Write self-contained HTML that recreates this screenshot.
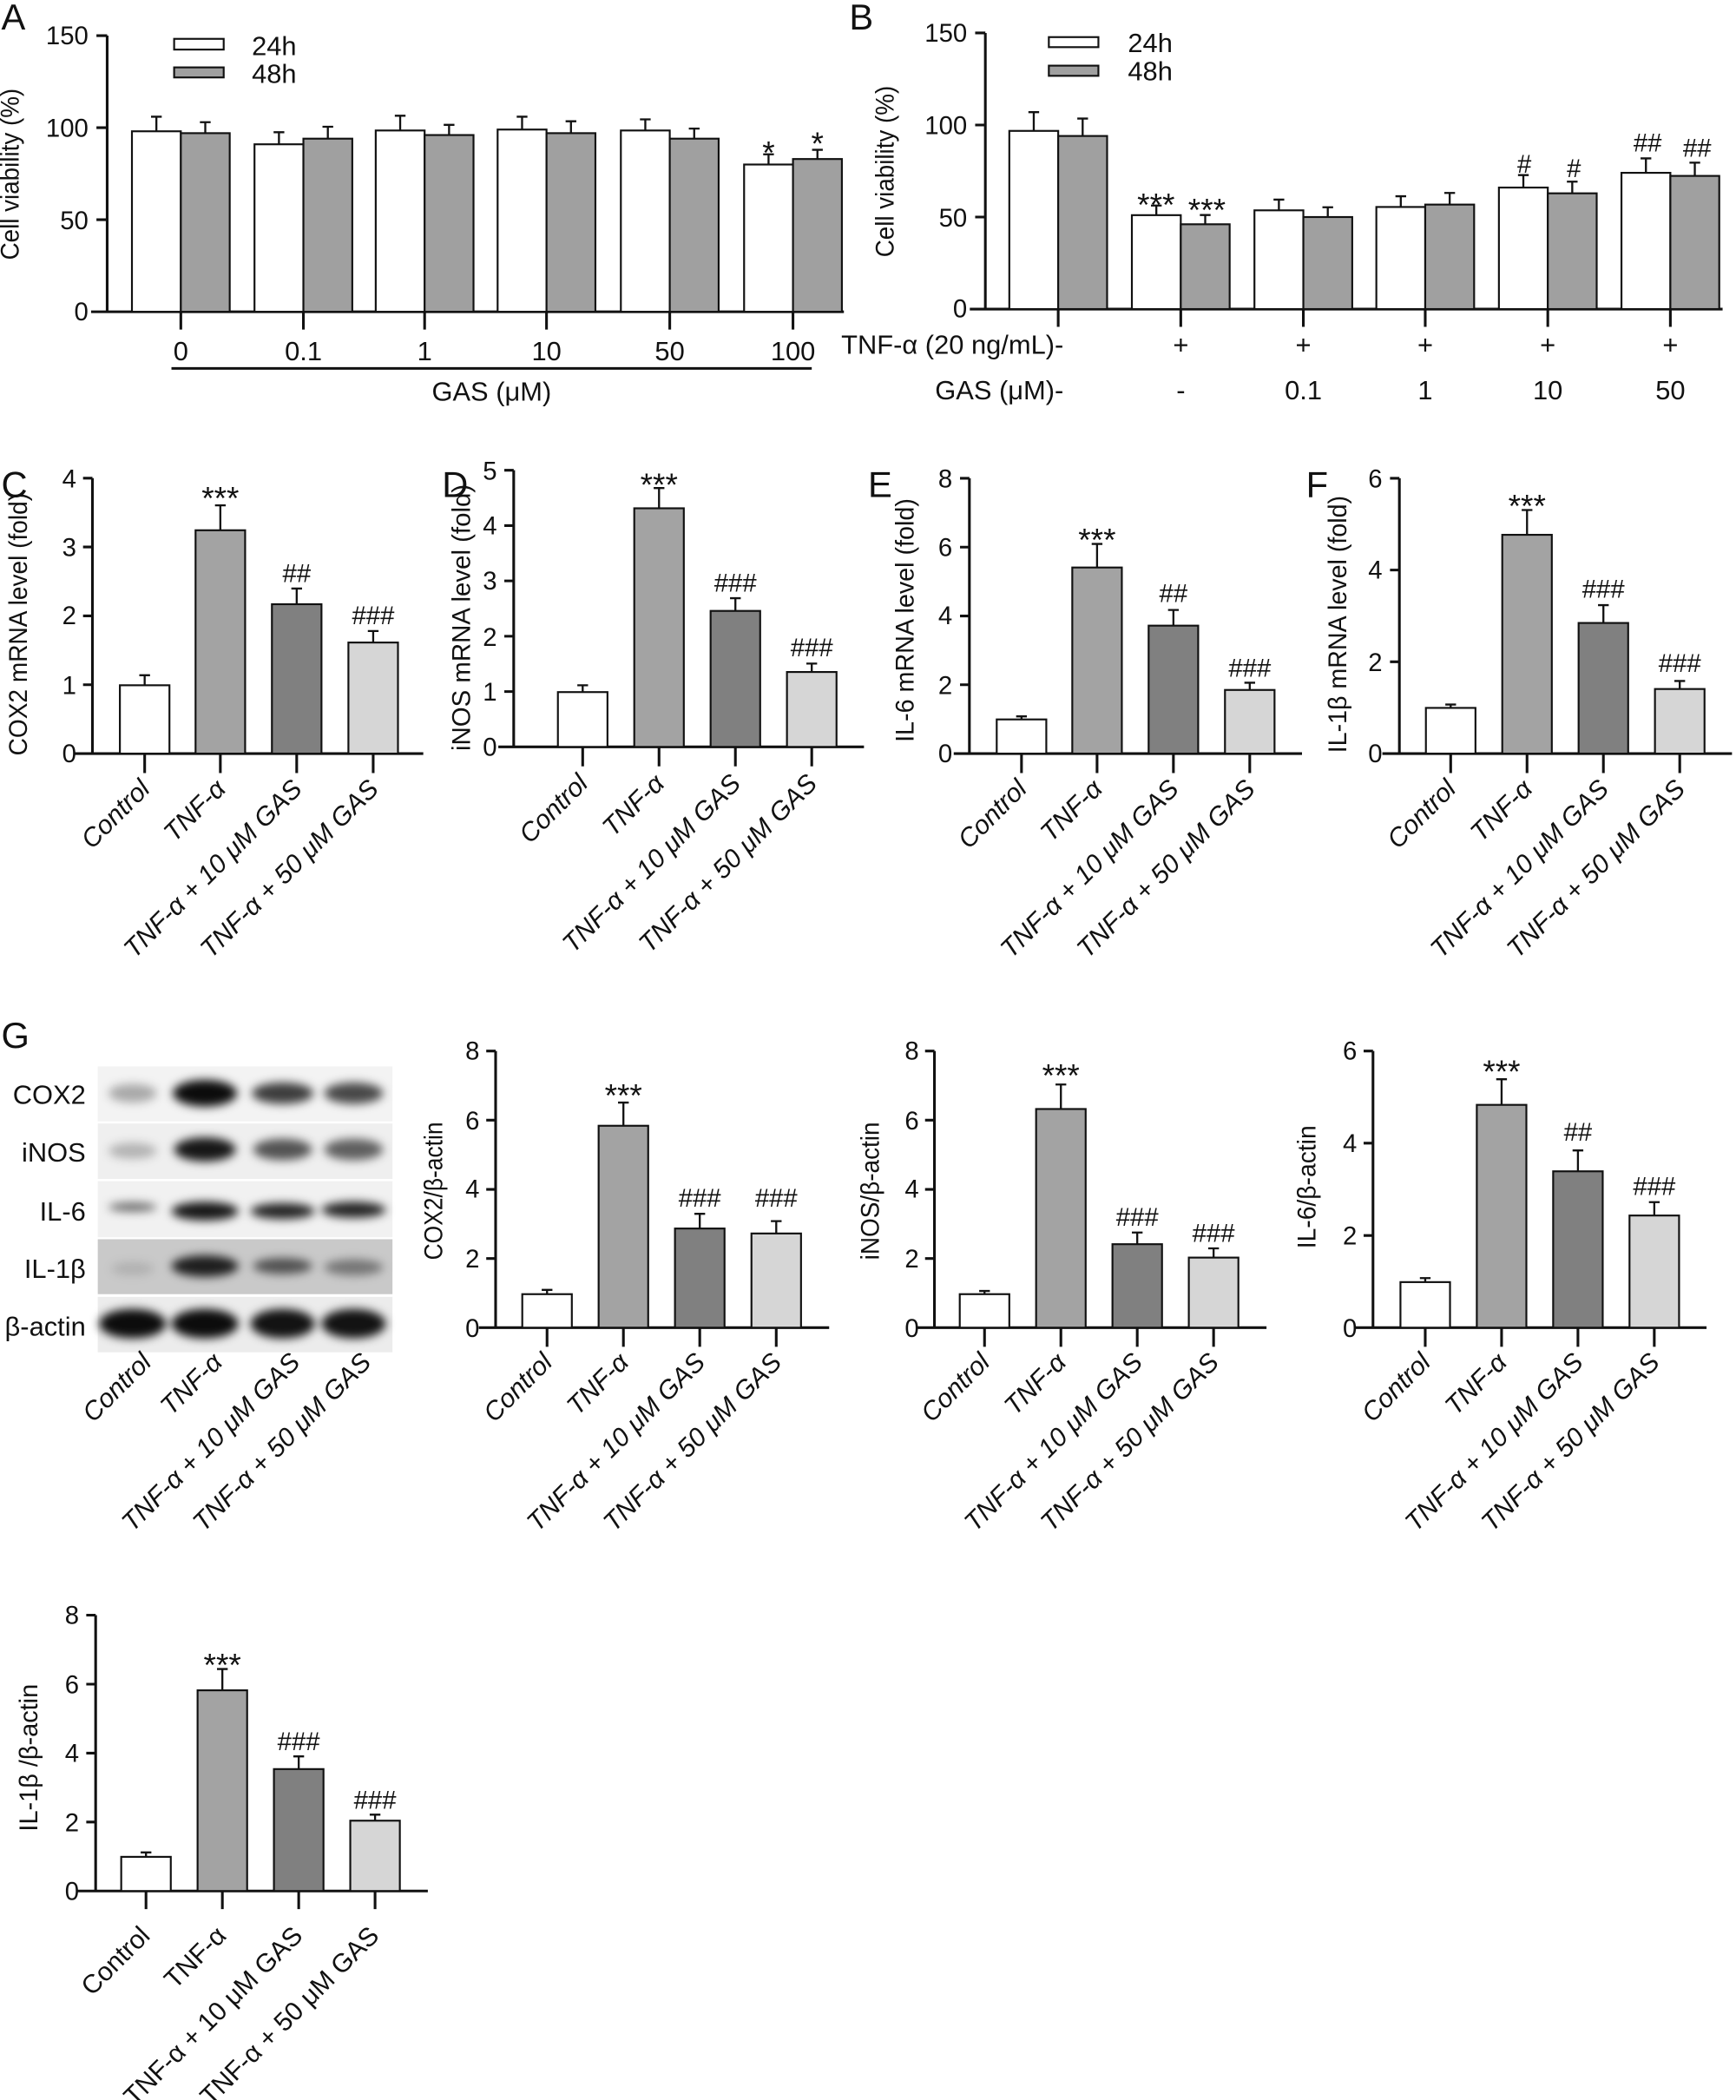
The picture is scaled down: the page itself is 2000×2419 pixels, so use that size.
<!DOCTYPE html>
<html><head><meta charset="utf-8"><style>
html,body{margin:0;padding:0;background:#fff;}
svg{display:block;}
text{font-family:"Liberation Sans",Arial,sans-serif;fill:#111;}
.nw{font-family:"Liberation Sans Narrow","Liberation Sans",Arial,sans-serif;}
.n{font-size:19px;text-anchor:end;font-family:"Liberation Sans Narrow","Liberation Sans",Arial,sans-serif;}
.t{font-size:19px;text-anchor:middle;}
.s{font-size:24px;text-anchor:middle;}
.h{font-size:19px;text-anchor:middle;}
.L{font-size:27px;}
.xl{font-size:19.5px;font-style:italic;text-anchor:end;}
.xu{font-size:19.5px;text-anchor:end;}
.ax{stroke:#111;stroke-width:2;fill:none;}
.b{stroke:#111;stroke-width:1.4;}
.e{stroke:#111;stroke-width:1.5;fill:none;}
</style></head><body>
<svg width="2000" height="2419" viewBox="0 0 1296 1567.5" preserveAspectRatio="none" xmlns="http://www.w3.org/2000/svg">
<defs><filter id="bl" x="-50%" y="-100%" width="200%" height="300%"><feGaussianBlur stdDeviation="3.5"/></filter></defs>
<rect width="1296" height="1567.5" fill="#fff"/>

<!-- Panel A -->
<text class="L" x="1" y="22">A</text>
<g class="ax"><path d="M80 26.6V232.7M72 26.6H80M72 95.3H80M72 164H80M72 232.7H80M68 232.7H630"/>
<path d="M135 232.7V246M226.5 232.7V246M317 232.7V246M408 232.7V246M500 232.7V246M592 232.7V246M128 275H606"/></g>
<text class="n" x="66" y="33">150</text><text class="n" x="66" y="102">100</text><text class="n" x="66" y="171">50</text><text class="n" x="66" y="239">0</text>
<text class="t" transform="translate(14,130) rotate(-90)" textLength="128" lengthAdjust="spacingAndGlyphs">Cell viability (%)</text>
<rect class="b" x="130" y="29" width="37" height="8" fill="#fff"/><rect class="b" x="130" y="50.3" width="37" height="7.5" fill="#a0a0a0"/>
<text class="nw" x="188" y="41" style="font-size:20px">24h</text><text class="nw" x="188" y="62" style="font-size:20px">48h</text>
<g class="b">
<rect x="98.5" y="98" width="36.5" height="134.7" fill="#fff"/><rect x="135" y="99.4" width="36.5" height="133.3" fill="#a0a0a0"/>
<rect x="190" y="107.7" width="36.5" height="125" fill="#fff"/><rect x="226.5" y="103.5" width="36.5" height="129.2" fill="#a0a0a0"/>
<rect x="280.5" y="97.4" width="36.5" height="135.3" fill="#fff"/><rect x="317" y="100.8" width="36.5" height="131.9" fill="#a0a0a0"/>
<rect x="371.5" y="96.7" width="36.5" height="136" fill="#fff"/><rect x="408" y="99.4" width="36.5" height="133.3" fill="#a0a0a0"/>
<rect x="463.5" y="97.4" width="36.5" height="135.3" fill="#fff"/><rect x="500" y="103.5" width="36.5" height="129.2" fill="#a0a0a0"/>
<rect x="555.5" y="122.8" width="36.5" height="109.9" fill="#fff"/><rect x="592" y="118.7" width="36.5" height="114" fill="#a0a0a0"/>
</g>
<path class="e" d="M116.75 98V87.1M112.75 87.1H120.75M153.25 99.4V91.2M149.25 91.2H157.25M208.25 107.7V98.7M204.25 98.7H212.25M244.75 103.5V94.6M240.75 94.6H248.75M298.75 97.4V86.4M294.75 86.4H302.75M335.25 100.8V93.2M331.25 93.2H339.25M389.75 96.7V87.1M385.75 87.1H393.75M426.25 99.4V90.5M422.25 90.5H430.25M481.75 97.4V89.1M477.75 89.1H485.75M518.25 103.5V96M514.25 96H522.25M573.75 122.8V115.2M569.75 115.2H577.75M610.25 118.7V111.8M606.25 111.8H614.25"/>
<text class="s" x="573.75" y="122">*</text><text class="s" x="610.25" y="115.5">*</text>
<g class="nw" style="font-size:20px;text-anchor:middle"><text x="135" y="269">0</text><text x="226.5" y="269">0.1</text><text x="317" y="269">1</text><text x="408" y="269">10</text><text x="500" y="269">50</text><text x="592" y="269">100</text>
<text x="367" y="299">GAS (μM)</text></g>

<!-- Panel B -->
<text class="L" x="634" y="22">B</text>
<g class="ax"><path d="M735.6 24.6V230.7M728 24.6H735.6M728 93.3H735.6M728 162H735.6M728 230.7H735.6M724 230.7H1286"/>
<path d="M790 230.7V244M881.5 230.7V244M973 230.7V244M1064 230.7V244M1155.5 230.7V244M1247 230.7V244"/></g>
<text class="n" x="722" y="31">150</text><text class="n" x="722" y="100">100</text><text class="n" x="722" y="169">50</text><text class="n" x="722" y="237">0</text>
<text class="t" transform="translate(667,128) rotate(-90)" textLength="128" lengthAdjust="spacingAndGlyphs">Cell viability (%)</text>
<rect class="b" x="783" y="27.7" width="37" height="7.5" fill="#fff"/><rect class="b" x="783" y="49" width="37" height="7.6" fill="#a0a0a0"/>
<text class="nw" x="842" y="39" style="font-size:20px">24h</text><text class="nw" x="842" y="60" style="font-size:20px">48h</text>
<g class="b">
<rect x="753.5" y="97.7" width="36.5" height="133" fill="#fff"/><rect x="790" y="101.5" width="36.5" height="129.2" fill="#a0a0a0"/>
<rect x="845" y="160.6" width="36.5" height="70.1" fill="#fff"/><rect x="881.5" y="167.4" width="36.5" height="63.3" fill="#a0a0a0"/>
<rect x="936.5" y="157" width="36.5" height="73.7" fill="#fff"/><rect x="973" y="162" width="36.5" height="68.7" fill="#a0a0a0"/>
<rect x="1027.5" y="154.5" width="36.5" height="76.2" fill="#fff"/><rect x="1064" y="152.7" width="36.5" height="78" fill="#a0a0a0"/>
<rect x="1119" y="140" width="36.5" height="90.7" fill="#fff"/><rect x="1155.5" y="144.3" width="36.5" height="86.4" fill="#a0a0a0"/>
<rect x="1210.5" y="129" width="36.5" height="101.7" fill="#fff"/><rect x="1247" y="131.3" width="36.5" height="99.4" fill="#a0a0a0"/>
</g>
<path class="e" d="M771.75 97.7V83.7M767.75 83.7H775.75M808.25 101.5V88.5M804.25 88.5H812.25M863.25 160.6V153.4M859.25 153.4H867.25M899.75 167.4V160.5M895.75 160.5H903.75M954.75 157V149M950.75 149H958.75M991.25 162V154.7M987.25 154.7H995.25M1045.75 154.5V146.5M1041.75 146.5H1049.75M1082.25 152.7V144M1078.25 144H1086.25M1137.25 140V130.7M1133.25 130.7H1141.25M1173.75 144.3V135.6M1169.75 135.6H1177.75M1228.75 129V118.2M1224.75 118.2H1232.75M1265.25 131.3V121.4M1261.25 121.4H1269.25"/>
<text class="s" x="863" y="161">***</text><text class="s" x="901" y="165">***</text>
<text class="h" x="1138" y="129">#</text><text class="h" x="1175" y="132.3">#</text>
<text class="h" x="1230" y="113">##</text><text class="h" x="1267" y="117">##</text>
<text class="nw" x="794" y="264" style="font-size:20px;text-anchor:end">TNF-α (20 ng/mL)-</text>
<text class="nw" x="794" y="298" style="font-size:20px;text-anchor:end">GAS (μM)-</text>
<g class="nw" style="font-size:20px;text-anchor:middle"><text x="881.5" y="264">+</text><text x="973" y="264">+</text><text x="1064" y="264">+</text><text x="1155.5" y="264">+</text><text x="1247" y="264">+</text>
<text x="881.5" y="298">-</text><text x="973" y="298">0.1</text><text x="1064" y="298">1</text><text x="1155.5" y="298">10</text><text x="1247" y="298">50</text></g>

<!-- Panel C -->
<text class="L" x="1" y="371">C</text>
<g class="ax"><path d="M69 356.9V562.5M62 356.9H69M62 408.3H69M62 459.7H69M62 511.1H69M62 562.5H69M56 562.5H316M108 562.5V577M164.5 562.5V577M221.5 562.5V577M278.6 562.5V577"/></g>
<text class="n" x="57" y="364">4</text><text class="n" x="57" y="415">3</text><text class="n" x="57" y="466">2</text><text class="n" x="57" y="518">1</text><text class="n" x="57" y="569">0</text>
<text class="t" transform="translate(20,466) rotate(-90)" textLength="196" lengthAdjust="spacingAndGlyphs">COX2 mRNA level (fold)</text>
<g class="b"><rect x="89.5" y="511.5" width="37" height="51" fill="#fff"/><rect x="146" y="395.8" width="37" height="166.7" fill="#a3a3a3"/><rect x="203" y="451" width="37" height="111.5" fill="#808080"/><rect x="260.1" y="479.6" width="37" height="82.9" fill="#d6d6d6"/></g>
<path class="e" d="M108 511.5V504M104 504H112M164.5 395.8V377.2M160.5 377.2H168.5M221.5 451V439.3M217.5 439.3H225.5M278.6 479.6V471M274.6 471H282.6"/>
<text class="s" x="164.5" y="380">***</text><text class="h" x="221.5" y="434.5">##</text><text class="h" x="278.6" y="466">###</text>
<g class="xl"><text transform="translate(113,590) rotate(-45)">Control</text><text transform="translate(169.5,590) rotate(-45)">TNF-α</text><text transform="translate(226.5,590) rotate(-45)">TNF-α + 10 μM GAS</text><text transform="translate(283.6,590) rotate(-45)">TNF-α + 50 μM GAS</text></g>

<!-- Panel D -->
<text class="L" x="330" y="371">D</text>
<g class="ax"><path d="M383.5 351V557.5M376.5 351H383.5M376.5 392.3H383.5M376.5 433.6H383.5M376.5 474.9H383.5M376.5 516.2H383.5M376.5 557.5H383.5M372 557.5H645M435 557.5V572M492 557.5V572M549 557.5V572M606 557.5V572"/></g>
<text class="n" x="371" y="358">5</text><text class="n" x="371" y="399">4</text><text class="n" x="371" y="440">3</text><text class="n" x="371" y="482">2</text><text class="n" x="371" y="523">1</text><text class="n" x="371" y="564">0</text>
<text class="t" transform="translate(351,461) rotate(-90)" textLength="199" lengthAdjust="spacingAndGlyphs">iNOS mRNA level (fold)</text>
<g class="b"><rect x="416.5" y="516.6" width="37" height="40.9" fill="#fff"/><rect x="473.5" y="379.4" width="37" height="178.1" fill="#a3a3a3"/><rect x="530.5" y="456" width="37" height="101.5" fill="#808080"/><rect x="587.5" y="501.6" width="37" height="55.9" fill="#d6d6d6"/></g>
<path class="e" d="M435 516.6V511.5M431 511.5H439M492 379.4V364.3M488 364.3H496M549 456V446.5M545 446.5H553M606 501.6V495.3M602 495.3H610"/>
<text class="s" x="492" y="370">***</text><text class="h" x="549" y="441.5">###</text><text class="h" x="606" y="490">###</text>
<g class="xl"><text transform="translate(440,586) rotate(-45)">Control</text><text transform="translate(497,586) rotate(-45)">TNF-α</text><text transform="translate(554,586) rotate(-45)">TNF-α + 10 μM GAS</text><text transform="translate(611,586) rotate(-45)">TNF-α + 50 μM GAS</text></g>

<!-- Panel E -->
<text class="L" x="648" y="371">E</text>
<g class="ax"><path d="M723.7 357V562.5M716.7 357H723.7M716.7 408.4H723.7M716.7 459.8H723.7M716.7 511.1H723.7M716.7 562.5H723.7M712 562.5H972M762.6 562.5V577M819 562.5V577M876 562.5V577M933 562.5V577"/></g>
<text class="n" x="711" y="364">8</text><text class="n" x="711" y="415">6</text><text class="n" x="711" y="466">4</text><text class="n" x="711" y="518">2</text><text class="n" x="711" y="569">0</text>
<text class="t" transform="translate(682,463) rotate(-90)" textLength="182" lengthAdjust="spacingAndGlyphs">IL-6 mRNA level (fold)</text>
<g class="b"><rect x="744.1" y="537" width="37" height="25.5" fill="#fff"/><rect x="800.5" y="423.6" width="37" height="138.9" fill="#a3a3a3"/><rect x="857.5" y="467" width="37" height="95.5" fill="#808080"/><rect x="914.5" y="515" width="37" height="47.5" fill="#d6d6d6"/></g>
<path class="e" d="M762.6 537V534.7M758.6 534.7H766.6M819 423.6V406M815 406H823M876 467V455.3M872 455.3H880M933 515V509.6M929 509.6H937"/>
<text class="s" x="819" y="411">***</text><text class="h" x="876" y="449.5">##</text><text class="h" x="933" y="505">###</text>
<g class="xl"><text transform="translate(767.6,590) rotate(-45)">Control</text><text transform="translate(824,590) rotate(-45)">TNF-α</text><text transform="translate(881,590) rotate(-45)">TNF-α + 10 μM GAS</text><text transform="translate(938,590) rotate(-45)">TNF-α + 50 μM GAS</text></g>

<!-- Panel F -->
<text class="L" x="975" y="371">F</text>
<g class="ax"><path d="M1044.7 357V562.5M1037.7 357H1044.7M1037.7 425.5H1044.7M1037.7 494H1044.7M1037.7 562.5H1044.7M1032 562.5H1293M1083 562.5V577M1140 562.5V577M1197 562.5V577M1254 562.5V577"/></g>
<text class="n" x="1032" y="364">6</text><text class="n" x="1032" y="432">4</text><text class="n" x="1032" y="501">2</text><text class="n" x="1032" y="569">0</text>
<text class="t" transform="translate(1005,466) rotate(-90)" textLength="192" lengthAdjust="spacingAndGlyphs">IL-1β mRNA level (fold)</text>
<g class="b"><rect x="1064.5" y="528.4" width="37" height="34.1" fill="#fff"/><rect x="1121.5" y="399.2" width="37" height="163.3" fill="#a3a3a3"/><rect x="1178.5" y="465" width="37" height="97.5" fill="#808080"/><rect x="1235.5" y="514.3" width="37" height="48.2" fill="#d6d6d6"/></g>
<path class="e" d="M1083 528.4V525.9M1079 525.9H1087M1140 399.2V380.7M1136 380.7H1144M1197 465V451.7M1193 451.7H1201M1254 514.3V508.3M1250 508.3H1258"/>
<text class="s" x="1140" y="386">***</text><text class="h" x="1197" y="446">###</text><text class="h" x="1254" y="501.5">###</text>
<g class="xl"><text transform="translate(1088,590) rotate(-45)">Control</text><text transform="translate(1145,590) rotate(-45)">TNF-α</text><text transform="translate(1202,590) rotate(-45)">TNF-α + 10 μM GAS</text><text transform="translate(1259,590) rotate(-45)">TNF-α + 50 μM GAS</text></g>

<!-- Panel G blot -->
<text class="L" x="1" y="782">G</text>
<rect x="73" y="796" width="220" height="41" fill="#f3f3f3"/>
<rect x="73" y="838.6" width="220" height="41.4" fill="#efefef"/>
<rect x="73" y="881.7" width="220" height="41.8" fill="#f1f1f1"/>
<rect x="73" y="925" width="220" height="41" fill="#c9c9c9"/>
<rect x="73" y="968" width="220" height="41.4" fill="#ececec"/>
<g filter="url(#bl)">
<ellipse cx="99" cy="816" rx="18" ry="7" fill="#000" opacity="0.3"/><ellipse cx="153" cy="816" rx="24" ry="10" fill="#000" opacity="0.95"/><ellipse cx="211" cy="816" rx="23" ry="8" fill="#000" opacity="0.75"/><ellipse cx="264" cy="816" rx="22" ry="8" fill="#000" opacity="0.7"/>
<ellipse cx="99" cy="859" rx="18" ry="6" fill="#000" opacity="0.25"/><ellipse cx="153" cy="858" rx="23" ry="9" fill="#000" opacity="0.9"/><ellipse cx="211" cy="858" rx="22" ry="8" fill="#000" opacity="0.65"/><ellipse cx="264" cy="858" rx="22" ry="8" fill="#000" opacity="0.6"/>
<ellipse cx="99" cy="901" rx="18" ry="3.5" fill="#000" opacity="0.55"/><ellipse cx="153" cy="904" rx="25" ry="7" fill="#000" opacity="0.9"/><ellipse cx="211" cy="904" rx="24" ry="6" fill="#000" opacity="0.85"/><ellipse cx="264" cy="903" rx="24" ry="6" fill="#000" opacity="0.85"/>
<ellipse cx="99" cy="947" rx="16" ry="5" fill="#000" opacity="0.12"/><ellipse cx="153" cy="945" rx="25" ry="8" fill="#000" opacity="0.85"/><ellipse cx="211" cy="945" rx="22" ry="6" fill="#000" opacity="0.6"/><ellipse cx="264" cy="946" rx="22" ry="6" fill="#000" opacity="0.42"/>
<ellipse cx="99" cy="988" rx="25" ry="11" fill="#000" opacity="0.95"/><ellipse cx="153" cy="988" rx="25" ry="11" fill="#000" opacity="0.95"/><ellipse cx="211" cy="988" rx="24" ry="11" fill="#000" opacity="0.92"/><ellipse cx="264" cy="988" rx="24" ry="11" fill="#000" opacity="0.92"/>
</g>
<g class="nw" style="font-size:20px;text-anchor:end"><text x="64" y="824">COX2</text><text x="64" y="867">iNOS</text><text x="64" y="911">IL-6</text><text x="64" y="954">IL-1β</text><text x="64" y="997">β-actin</text></g>
<g class="xl"><text transform="translate(114,1018) rotate(-45)">Control</text><text transform="translate(167,1018) rotate(-45)">TNF-α</text><text transform="translate(225,1018) rotate(-45)">TNF-α + 10 μM GAS</text><text transform="translate(278,1018) rotate(-45)">TNF-α + 50 μM GAS</text></g>

<!-- G1 -->
<g class="ax"><path d="M370 784.5V991M363 784.5H370M363 836.1H370M363 887.8H370M363 939.4H370M363 991H370M357.5 991H619M408.4 991V1005.3M465.4 991V1005.3M522.4 991V1005.3M579.5 991V1005.3"/></g>
<text class="n" x="358" y="791">8</text><text class="n" x="358" y="843">6</text><text class="n" x="358" y="894">4</text><text class="n" x="358" y="946">2</text><text class="n" x="358" y="998">0</text>
<text class="t" transform="translate(330,889) rotate(-90)" textLength="103" lengthAdjust="spacingAndGlyphs">COX2/β-actin</text>
<g class="b"><rect x="389.9" y="966" width="37" height="25" fill="#fff"/><rect x="446.9" y="840.3" width="37" height="150.7" fill="#a3a3a3"/><rect x="503.9" y="917" width="37" height="74" fill="#808080"/><rect x="561" y="920.7" width="37" height="70.3" fill="#d6d6d6"/></g>
<path class="e" d="M408.4 966V962.8M404.4 962.8H412.4M465.4 840.3V823M461.4 823H469.4M522.4 917V906M518.4 906H526.4M579.5 920.7V911.5M575.5 911.5H583.5"/>
<text class="s" x="465.4" y="826">***</text><text class="h" x="522.4" y="900.6">###</text><text class="h" x="579.5" y="900.6">###</text>
<g class="xl"><text transform="translate(413.4,1018) rotate(-45)">Control</text><text transform="translate(470.4,1018) rotate(-45)">TNF-α</text><text transform="translate(527.4,1018) rotate(-45)">TNF-α + 10 μM GAS</text><text transform="translate(584.5,1018) rotate(-45)">TNF-α + 50 μM GAS</text></g>

<!-- G2 -->
<g class="ax"><path d="M697.6 784.5V991M690.6 784.5H697.6M690.6 836.1H697.6M690.6 887.8H697.6M690.6 939.4H697.6M690.6 991H697.6M684.5 991H945.5M735 991V1005.3M792 991V1005.3M849 991V1005.3M906 991V1005.3"/></g>
<text class="n" x="686" y="791">8</text><text class="n" x="686" y="843">6</text><text class="n" x="686" y="894">4</text><text class="n" x="686" y="946">2</text><text class="n" x="686" y="998">0</text>
<text class="t" transform="translate(656,889) rotate(-90)" textLength="103" lengthAdjust="spacingAndGlyphs">iNOS/β-actin</text>
<g class="b"><rect x="716.5" y="966" width="37" height="25" fill="#fff"/><rect x="773.5" y="827.8" width="37" height="163.2" fill="#a3a3a3"/><rect x="830.5" y="928.7" width="37" height="62.3" fill="#808080"/><rect x="887.5" y="938.7" width="37" height="52.3" fill="#d6d6d6"/></g>
<path class="e" d="M735 966V963.6M731 963.6H739M792 827.8V809.5M788 809.5H796M849 928.7V920M845 920H853M906 938.7V931.8M902 931.8H910"/>
<text class="s" x="792" y="811">***</text><text class="h" x="849" y="915">###</text><text class="h" x="906" y="927">###</text>
<g class="xl"><text transform="translate(740,1018) rotate(-45)">Control</text><text transform="translate(797,1018) rotate(-45)">TNF-α</text><text transform="translate(854,1018) rotate(-45)">TNF-α + 10 μM GAS</text><text transform="translate(911,1018) rotate(-45)">TNF-α + 50 μM GAS</text></g>

<!-- G3 -->
<g class="ax"><path d="M1025 784.5V991M1018 784.5H1025M1018 853.3H1025M1018 922.2H1025M1018 991H1025M1011.7 991H1274M1064 991V1005.3M1121 991V1005.3M1178 991V1005.3M1235 991V1005.3"/></g>
<text class="n" x="1013" y="791">6</text><text class="n" x="1013" y="860">4</text><text class="n" x="1013" y="929">2</text><text class="n" x="1013" y="998">0</text>
<text class="t" transform="translate(982,886) rotate(-90)" textLength="92" lengthAdjust="spacingAndGlyphs">IL-6/β-actin</text>
<g class="b"><rect x="1045.5" y="957" width="37" height="34" fill="#fff"/><rect x="1102.5" y="824.7" width="37" height="166.3" fill="#a3a3a3"/><rect x="1159.5" y="874.3" width="37" height="116.7" fill="#808080"/><rect x="1216.5" y="907.3" width="37" height="83.7" fill="#d6d6d6"/></g>
<path class="e" d="M1064 957V954M1060 954H1068M1121 824.7V805.6M1117 805.6H1125M1178 874.3V858.7M1174 858.7H1182M1235 907.3V897.3M1231 897.3H1239"/>
<text class="s" x="1121" y="808">***</text><text class="h" x="1178" y="851.5">##</text><text class="h" x="1235" y="892">###</text>
<g class="xl"><text transform="translate(1069,1018) rotate(-45)">Control</text><text transform="translate(1126,1018) rotate(-45)">TNF-α</text><text transform="translate(1183,1018) rotate(-45)">TNF-α + 10 μM GAS</text><text transform="translate(1240,1018) rotate(-45)">TNF-α + 50 μM GAS</text></g>

<!-- G4 bottom -->
<g class="ax"><path d="M71.4 1205.6V1411.5M64.4 1205.6H71.4M64.4 1257.1H71.4M64.4 1308.6H71.4M64.4 1360H71.4M64.4 1411.5H71.4M57 1411.5H319.4M109 1411.5V1425M166 1411.5V1425M223 1411.5V1425M280 1411.5V1425"/></g>
<text class="n" x="59" y="1212">8</text><text class="n" x="59" y="1264">6</text><text class="n" x="59" y="1315">4</text><text class="n" x="59" y="1367">2</text><text class="n" x="59" y="1418">0</text>
<text class="t" transform="translate(28,1312) rotate(-90)" textLength="110" lengthAdjust="spacingAndGlyphs">IL-1β /β-actin</text>
<g class="b"><rect x="90.5" y="1386" width="37" height="25.5" fill="#fff"/><rect x="147.5" y="1261.7" width="37" height="149.8" fill="#a3a3a3"/><rect x="204.5" y="1320.5" width="37" height="91" fill="#808080"/><rect x="261.5" y="1359" width="37" height="52.5" fill="#d6d6d6"/></g>
<path class="e" d="M109 1386V1382.7M105 1382.7H113M166 1261.7V1245.8M162 1245.8H170M223 1320.5V1311M219 1311H227M280 1359V1354.5M276 1354.5H284"/>
<text class="s" x="166" y="1251">***</text><text class="h" x="223" y="1306.4">###</text><text class="h" x="280" y="1350">###</text>
<g class="xu"><text transform="translate(113,1446) rotate(-45)">Control</text><text transform="translate(170,1446) rotate(-45)">TNF-α</text><text transform="translate(227,1446) rotate(-45)">TNF-α + 10 μM GAS</text><text transform="translate(284,1446) rotate(-45)">TNF-α + 50 μM GAS</text></g>
</svg>
</body></html>
